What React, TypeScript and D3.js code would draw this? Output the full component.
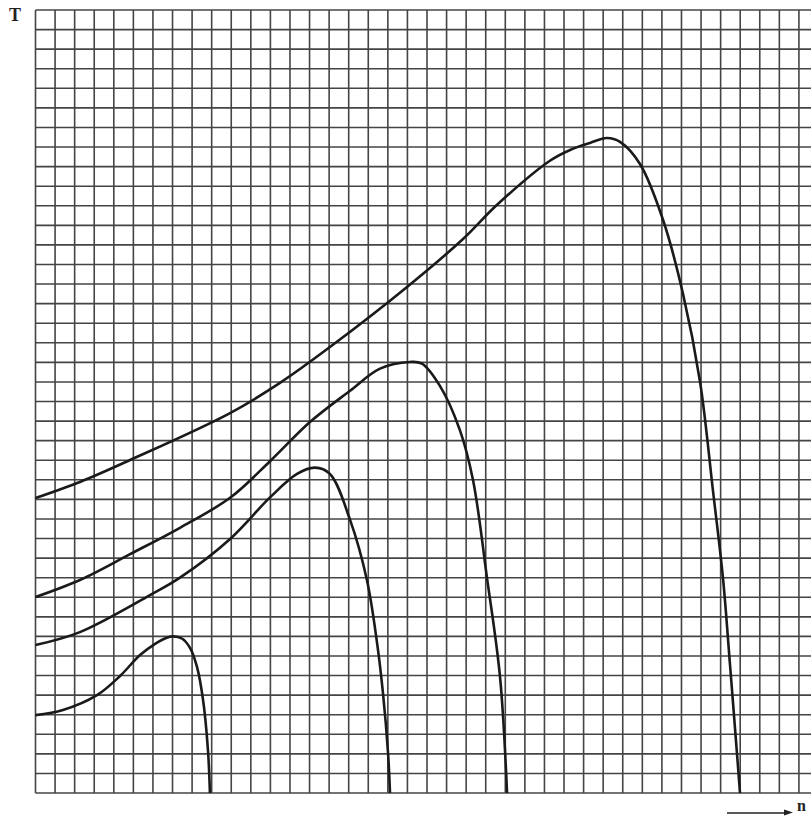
import React from "react";
import * as d3 from "d3";

// Grid extent in cells (x: n, y: T)
const gridCells = 40;
const gridLines: number[] = Array.from({ length: gridCells + 1 }, (_, i) => i);

// Curves, in grid-cell units [n, T]
const curve1: [number, number][] = [
  [0, 3.98], [1.4, 4.24], [3.14, 5.0], [4.32, 5.98], [5.34, 7.05], [6.11, 7.62], [6.67, 7.92],
  [7.02, 8.0], [7.5, 7.88], [7.9, 7.4], [8.25, 6.44], [8.56, 4.75], [8.81, 2.19], [8.91, 0],
];
const curve2: [number, number][] = [
  [0, 7.56], [2.27, 8.22], [5.85, 10.11], [7.38, 11.0], [9.94, 12.98], [11.98, 15.1],
  [13.36, 16.3], [14.28, 16.62], [15.04, 16.3], [16.07, 13.95], [16.93, 10.88],
  [17.45, 7.66], [17.75, 5.11], [18.01, 2.04], [18.11, 0],
];
const curve3: [number, number][] = [
  [0, 10.01], [2.27, 10.88], [4.83, 12.2], [7.38, 13.55], [9.94, 15.08], [11.98, 16.95],
  [14.02, 18.95], [16.07, 20.55], [17.6, 21.68], [19.13, 22.02], [19.74, 21.94],
  [20.66, 20.8], [21.68, 18.54], [22.35, 15.99], [23.06, 11.03], [23.73, 5.93], [24.09, 0],
];
const curve4: [number, number][] = [
  [0, 15.07], [2.27, 15.89], [4.83, 17.01], [9.94, 19.41], [12.49, 20.95], [15.04, 22.78],
  [18.98, 25.85], [21.84, 28.3], [23.58, 30.05], [26.28, 32.3], [27.31, 32.85],
  [28.33, 33.21], [29.19, 33.46], [29.86, 33.26], [30.88, 32.13], [32.06, 29.27],
  [33.08, 25.49], [33.95, 21.0], [34.61, 15.43], [35.12, 10.98], [35.48, 6.54],
  [35.83, 2.09], [35.99, 0],
];
const curves = [curve1, curve2, curve3, curve4];

const yLabel = "T";
const xLabel = "n";

export default function App() {
  const W = 811;
  const H = 816;
  const x = d3.scaleLinear().domain([0, gridCells]).range([35.5, 818.5]);
  const y = d3.scaleLinear().domain([0, gridCells]).range([793, 10]);
  const line = d3
    .line<[number, number]>()
    .x((d) => x(d[0]))
    .y((d) => y(d[1]))
    .curve(d3.curveCatmullRom.alpha(0.5));

  return (
    <svg
      width={W}
      height={H}
      viewBox={`0 0 ${W} ${H}`}
      style={{ position: "absolute", left: 0, top: 0, background: "#fff" }}
    >
      <g>
        {gridLines.map((v) => (
          <line
            key={"v" + v}
            x1={x(v)}
            x2={x(v)}
            y1={y(0)}
            y2={y(gridCells)}
            stroke="#444"
            strokeWidth={1.6}
          />
        ))}
        {gridLines.map((v) => (
          <line
            key={"h" + v}
            x1={x(0)}
            x2={x(gridCells)}
            y1={y(v)}
            y2={y(v)}
            stroke="#444"
            strokeWidth={1.6}
          />
        ))}
      </g>
      <g>
        {curves.map((c, i) => (
          <path
            key={i}
            d={line(c) || ""}
            fill="none"
            stroke="#1a1a1a"
            strokeWidth={2.6}
            strokeLinecap="butt"
            strokeLinejoin="round"
          />
        ))}
      </g>
      <text
        x={15}
        y={21}
        textAnchor="middle"
        fontFamily="'Liberation Serif', 'DejaVu Serif', serif"
        fontWeight="bold"
        fontSize={18}
        fill="#222"
      >
        {yLabel}
      </text>
      <line x1={727} x2={788} y1={813} y2={813} stroke="#222" strokeWidth={1.5} />
      <path d="M 793 812.5 L 784 809.5 L 784 815.5 Z" fill="#222" />
      <text
        x={797}
        y={811}
        fontFamily="'Liberation Serif', 'DejaVu Serif', serif"
        fontWeight="bold"
        fontSize={16}
        fill="#222"
      >
        {xLabel}
      </text>
    </svg>
  );
}
